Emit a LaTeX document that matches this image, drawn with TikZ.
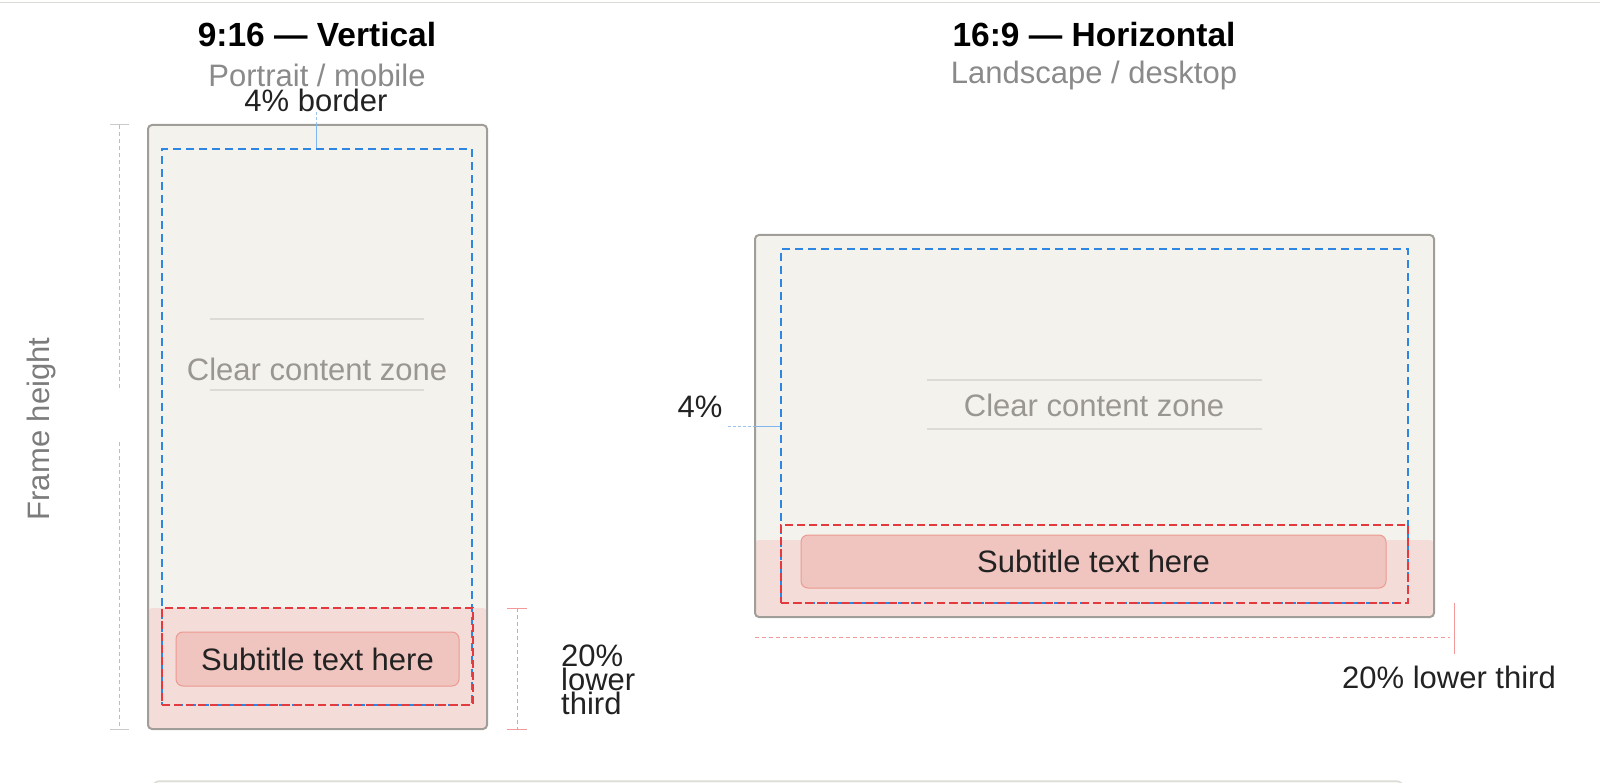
\documentclass[tikz,border=0pt]{standalone}
\usepackage{fontspec}
\setmainfont{Liberation Sans}
\usetikzlibrary{positioning, calc}

\definecolor{ink}{HTML}{222222}
\definecolor{muted}{HTML}{8A8A8A}
\definecolor{zonegray}{HTML}{9A9792}
\definecolor{framebg}{HTML}{F3F2EC}
\definecolor{frameline}{HTML}{A19D99}
\definecolor{lowerbg}{HTML}{F4DDD8}
\definecolor{subfill}{HTML}{F0C4BF}
\definecolor{subline}{HTML}{EC9A92}
\definecolor{safeblue}{HTML}{2C86E2}
\definecolor{faintblue}{HTML}{9CC3EE}
\definecolor{lowerred}{HTML}{E23A3F}
\definecolor{guidegray}{HTML}{BDBDBD}
\definecolor{guidered}{HTML}{F29A9A}
\definecolor{rulegray}{HTML}{DDDBD5}
\definecolor{panelbg}{HTML}{F7F7F3}

\tikzset{
frame/.style = {rectangle, draw = frameline, fill = framebg, line width = 2pt,
	rounded corners = 4pt, inner sep = 0pt,
	path picture = {\fill [lowerbg] ($(path picture bounding box.south west)+(0,-#1)$)
		rectangle (path picture bounding box.south east);}},
safe/.style = {rectangle, draw = safeblue, line width = 2.2pt,
	dash pattern = on 8pt off 5pt, inner sep = 0pt},
lower/.style = {rectangle, draw = lowerred, line width = 2.2pt,
	dash pattern = on 8pt off 4pt, inner sep = 0pt},
caption/.style = {rectangle, rounded corners = 7pt, draw = subline, fill = subfill,
	line width = 1pt, inner sep = 0pt, text = ink, font = \fontsize{31}{36}\selectfont},
title/.style = {inner sep = 0pt, text = black, font = \fontsize{33.5}{38}\selectfont\bfseries},
hint/.style = {inner sep = 0pt, text = muted, font = \fontsize{31}{36}\selectfont},
note/.style = {inner sep = 0pt, text = ink, font = \fontsize{31}{24}\selectfont},
zone/.style = {inner sep = 0pt, text = zonegray, font = \fontsize{31}{36}\selectfont},
zonerule/.style = {draw = rulegray, line width = 1.2pt},
guide/.style = {draw = guidegray, line width = 1pt, dash pattern = on 4pt off 3pt},
guidetick/.style = {draw = guidegray!80, line width = 1pt},
redguide/.style = {draw = guidered, line width = 1pt, dash pattern = on 4pt off 3pt},
redtick/.style = {draw = guidered, line width = 1pt},
pointer/.style = {draw = faintblue, line width = 1pt, dash pattern = on 3pt off 2pt},
pointersolid/.style = {draw = safeblue!60, line width = 1pt}
}

\begin{document}
\begin{tikzpicture}[x = 1pt, y = -1pt]

\useasboundingbox (0,0) rectangle (1600,783);

%% Page rules
\coordinate (ruleL) at (0,2.5);
\coordinate (ruleR) at (1600,2.5);
\draw [draw = rulegray, line width = 1.5pt] (ruleL) -- (ruleR);
\draw [draw = rulegray, fill = panelbg, line width = 1.5pt, rounded corners = 8pt]
	(152,781) rectangle (1404,830);

%% Vertical frame
% Headings
\node at (317, 35) [title] (titleL) {9:16 — Vertical};
\node at (317, 75) [hint] (subL) {Portrait / mobile};
\node at (316, 100) [note] (border) {4\% border};

% Frame and zones
\node at (317.5, 427) [frame = 121, minimum width = 339pt, minimum height = 604pt] (frameL) {};
\draw [zonerule] (210, 319) -- (424, 319);
\draw [zonerule] (210, 390) -- (424, 390);
\node at (317, 369) [zone] (zoneL) {Clear content zone};
\node at (317, 427) [safe, minimum width = 310pt, minimum height = 556pt] (safeL) {};
\node at (317.5, 656.5) [lower, minimum width = 311pt, minimum height = 97pt] (lowerL) {};
\node at (317.5, 659) [caption, minimum width = 283pt, minimum height = 54pt] (capL) {Subtitle text here};

% The border pointer
\draw [pointer] (border.south) -- (border.south |- frameL.north);
\draw [pointersolid] (border.south |- frameL.north) -- (border.south |- safeL.north);

% Frame height
\coordinate (htop) at (119, 125);
\coordinate (hbot) at (119, 729);
\coordinate (hgap1) at (119, 391);
\coordinate (hgap2) at (119, 442);
\draw [guide] (htop) -- (hgap1);
\draw [guide] (hgap2) -- (hbot);
\draw [guidetick] ($(htop)+(-9,0)$) -- ($(htop)+(10,0)$);
\draw [guidetick] ($(hbot)+(-9,0)$) -- ($(hbot)+(10,0)$);
\node at (41, 429) [hint, rotate = 90, text = muted!90!black] (heightlabel) {Frame height};

% Lower third
\coordinate (ltop) at (517, 608);
\coordinate (lbot) at (517, 729);
\draw [redguide] (ltop) -- (lbot);
\draw [redtick] ($(ltop)+(-10,0)$) -- ($(ltop)+(10,0)$);
\draw [redtick] ($(lbot)+(-10,0)$) -- ($(lbot)+(10,0)$);
\node at (561, 680) [note, anchor = west, align = left] (lowerlabelL) {20\%\\lower\\third};

%% Horizontal frame
% Headings
\node at (1094, 35) [title] (titleR) {16:9 — Horizontal};
\node at (1094, 75) [hint] (subR) {Landscape / desktop};

% Frame and zones
\node at (1094.5, 426) [frame = 77, minimum width = 679pt, minimum height = 382pt] (frameR) {};
\draw [zonerule] (927, 380) -- (1262, 380);
\draw [zonerule] (927, 429) -- (1262, 429);
\node at (1094, 405) [zone] (zoneR) {Clear content zone};
\node at (1094.5, 426) [safe, minimum width = 627pt, minimum height = 354pt] (safeR) {};
\node at (1094.5, 564) [lower, minimum width = 627pt, minimum height = 78pt] (lowerR) {};
\node at (1093.5, 561.5) [caption, minimum width = 585pt, minimum height = 53pt] (capR) {Subtitle text here};

% The 4% pointer
\node at (700, 407) [note] (pct) {4\%};
\coordinate (pctend) at (728, 426);
\draw [pointer] (pctend) -- (pctend -| frameR.west);
\draw [pointersolid] (pctend -| frameR.west) -- (pctend -| safeR.west);

% Lower third
\coordinate (wl) at (755, 637);
\coordinate (wr) at (1450, 637);
\coordinate (wt) at (1454, 603);
\coordinate (wb) at (1454, 654);
\draw [redguide] (wl) -- (wr);
\draw [redtick] (wt) -- (wb);
\node at (1449, 677) [note] (lowerlabelR) {20\% lower third};

\end{tikzpicture}
\end{document}
